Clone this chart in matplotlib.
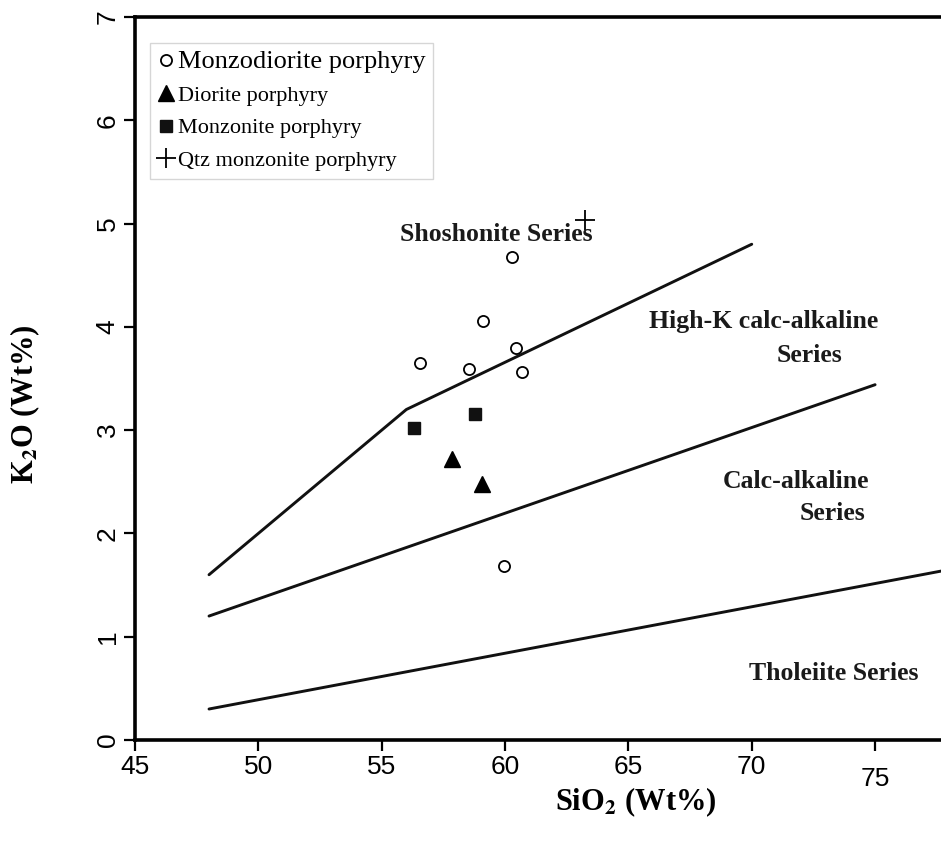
import numpy as np
import matplotlib.pyplot as plt
import matplotlib.transforms as mtransforms

plt.rcParams['mathtext.fontset'] = 'stix'

# boundary lines (SiO2, K2O)
sho_x = [48, 56, 70]
sho_y = [1.6, 3.2, 4.8]
hk_x = [48, 75]
hk_y = [1.2, 3.44]
th_x = [48, 68, 78]
th_y = [0.3, 1.2, 1.65]

# samples
monzodiorite_x = [60.3, 59.1, 56.55, 58.55, 60.45, 60.7, 59.95]
monzodiorite_y = [4.68, 4.06, 3.65, 3.59, 3.80, 3.56, 1.68]
diorite_x = [57.85, 59.05]
diorite_y = [2.72, 2.48]
monzonite_x = [56.3, 58.8]
monzonite_y = [3.02, 3.16]
qtz_x = [63.25]
qtz_y = [5.03]

SERIF = 'Liberation Serif'
SANS = 'Liberation Sans'

fig = plt.figure(figsize=(9.41, 8.51), dpi=100)
ax = fig.add_axes([135 / 941, 111 / 851, 806 / 941, 723 / 851])

for xs, ys in [(sho_x, sho_y), (hk_x, hk_y), (th_x, th_y)]:
    ax.plot(xs, ys, color='#111111', lw=2.1, solid_capstyle='round', zorder=2)

ax.plot(monzodiorite_x, monzodiorite_y, 'o', ms=8, mfc='white', mec='black', mew=1.3,
        ls='none', label='Monzodiorite porphyry', zorder=3)
ax.plot(diorite_x, diorite_y, '^', ms=11, color='black', ls='none',
        label='Diorite porphyry', zorder=3)
ax.plot(monzonite_x, monzonite_y, 's', ms=8.5, color='#111111', ls='none',
        label='Monzonite porphyry', zorder=3)
ax.plot(qtz_x, qtz_y, '+', ms=15, mew=1.3, color='black', ls='none',
        label='Qtz monzonite porphyry', zorder=3)

# series labels
tkw = dict(family=SERIF, weight='bold', fontsize=18.5, color='#1a1a1a',
           va='center_baseline')
ax.text(59.63, 4.92, 'Shoshonite Series', ha='center', **tkw)
ax.text(75.12, 4.08, 'High-K calc-alkaline', ha='right', **tkw)
ax.text(73.66, 3.75, 'Series', ha='right', **tkw)
ax.text(74.75, 2.53, 'Calc-alkaline', ha='right', **tkw)
ax.text(74.59, 2.22, 'Series', ha='right', **tkw)
ax.text(76.74, 0.67, 'Tholeiite Series', ha='right', **tkw)

ax.set_xlim(45, 45 + 806 / 24.67)
ax.set_ylim(0, 7)
ax.set_xticks([45, 50, 55, 60, 65, 70, 75])
ax.set_yticks(range(8))
ax.tick_params(direction='out', length=8, width=1.6, labelsize=19, pad=3)
for lab in ax.get_xticklabels() + ax.get_yticklabels():
    lab.set_family(SANS)
for lab in ax.get_yticklabels():
    lab.set_rotation(90)
    lab.set_va('center')
# the 75 label sits a little lower in the original
lab75 = ax.get_xticklabels()[-1]
lab75.set_transform(lab75.get_transform() +
                    mtransforms.ScaledTranslation(0, -12 / 100, fig.dpi_scale_trans))

for side in ['left', 'bottom', 'top']:
    ax.spines[side].set_linewidth(2.6)
ax.spines['right'].set_visible(False)

fig.text(636 / 941, 1 - 802 / 851, r'SiO$_\mathbf{2}$ (Wt%)', ha='center', va='center',
         family=SERIF, weight='bold', fontsize=22)
fig.text(25 / 941, 1 - 404 / 851, r'K$_\mathbf{2}$O (Wt%)', ha='center', va='center',
         rotation=90, family=SERIF, weight='bold', fontsize=22)

leg = ax.legend(loc='upper left', bbox_to_anchor=(15 / 806, 1 - 26 / 723),
                borderaxespad=0, frameon=True, fancybox=False, handlelength=0.7,
                handletextpad=0.2, labelspacing=0.55, borderpad=0.35,
                prop={'family': SERIF, 'size': 16})
leg.get_frame().set_edgecolor('#cccccc')
leg.get_frame().set_linewidth(1.0)
leg.get_texts()[0].set_fontsize(19)

fig.savefig('out.png', dpi=100)
